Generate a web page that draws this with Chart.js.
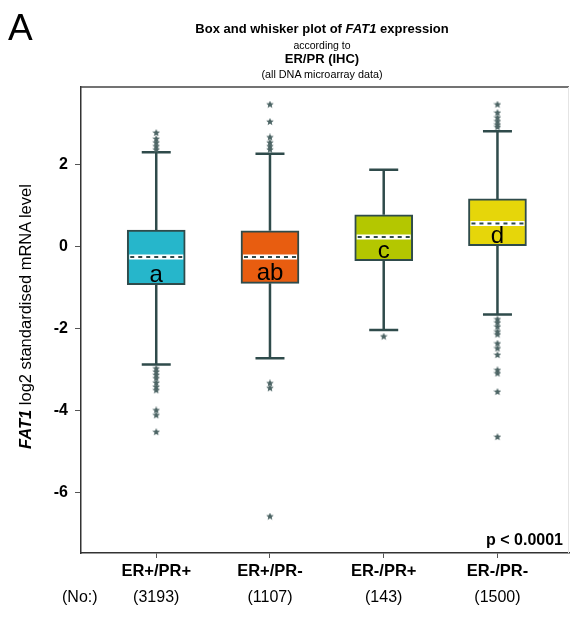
<!DOCTYPE html>
<html>
<head>
<meta charset="utf-8">
<script src="https://cdn.jsdelivr.net/npm/chart.js@4/dist/chart.umd.min.js"></script>
<style>
  html, body { margin: 0; padding: 0; background: #fff; }
  #wrap { position: relative; width: 574px; height: 624px; font-family: "Liberation Sans", Arial, sans-serif; color: #000; }
  #c { position: absolute; left: 0; top: 0; }
  .t { position: absolute; left: 122px; width: 400px; text-align: center; white-space: nowrap; }
  #panel { position: absolute; left: 8px; top: 9px; font-size: 37px; line-height: 37px; }
  #ylab { position: absolute; left: -175px; top: 307px; width: 400px; height: 19px; line-height: 19px; text-align: center; font-size: 16.5px; transform: rotate(-90deg); transform-origin: 200px 9.5px; white-space: nowrap; }
</style>
</head>
<body>
<div id="wrap">
  <canvas id="c" width="574" height="624"></canvas>
  <div id="panel">A</div>
  <div class="t" style="top:21px;font-size:13px;line-height:15px;font-weight:bold;">Box and whisker plot of <i>FAT1</i> expression</div>
  <div class="t" style="top:39px;font-size:10.5px;line-height:12px;">according to</div>
  <div class="t" style="top:51px;font-size:13px;line-height:15px;font-weight:bold;">ER/PR (IHC)</div>
  <div class="t" style="top:67.5px;font-size:10.8px;line-height:12px;">(all DNA microarray data)</div>
  <div id="ylab"><b><i>FAT1</i></b> log2 standardised mRNA level</div>
</div>
<script>
// ---- data ----
const categories = ['ER+/PR+', 'ER+/PR-', 'ER-/PR+', 'ER-/PR-'];
const counts = ['(3193)', '(1107)', '(143)', '(1500)'];
const letters = ['a', 'ab', 'c', 'd'];
const whiskerLow  = [-2.87, -2.72, -2.03, -1.65];
const q1          = [-0.92, -0.89, -0.34, 0.03];
const median      = [-0.25, -0.25, 0.24, 0.57];
const q3          = [0.41, 0.39, 0.78, 1.17];
const whiskerHigh = [2.31, 2.27, 1.88, 2.82];
const outliersA = [2.78, 2.63, 2.54, 2.45, 2.37, -2.97, -3.05, -3.13, -3.21, -3.32, -3.42, -3.50, -3.99, -4.11, -4.52];
const outliersB = [3.47, 3.05, 2.67, 2.54, 2.45, 2.37, -3.33, -3.45, -6.58];
const outliersC = [-2.19];
const outliersD = [3.47, 3.27, 3.15, 3.06, 2.98, 2.92, -1.77, -1.85, -1.95, -2.07, -2.14, -2.36, -2.48, -2.64, -3.01, -3.09, -3.54, -4.64];
const yTicks = [-6, -4, -2, 0, 2];
const pValueText = 'p < 0.0001';

// ---- styles ----
const boxColors = ['#26b6cb', '#e85d10', '#b4c700', '#e6d60a'];
const lineColor = '#2f4b4b';
const starColor = '#4c6464';
const FONT = '"Liberation Sans", Arial, sans-serif';

function makeStar(size, color) {
  const c = document.createElement('canvas');
  c.width = c.height = size;
  const g = c.getContext('2d');
  g.fillStyle = color;
  g.beginPath();
  const cx = size / 2, cy = size / 2, R = size / 2, r = R * 0.45;
  for (let k = 0; k < 10; k++) {
    const a = -Math.PI / 2 + k * Math.PI / 5;
    const rad = k % 2 ? r : R;
    g.lineTo(cx + rad * Math.cos(a), cy + rad * Math.sin(a));
  }
  g.closePath();
  g.fill();
  return c;
}
const star = makeStar(8, starColor);

const allOutliers = [outliersA, outliersB, outliersC, outliersD];
const outlierPoints = [];
allOutliers.forEach((arr, i) => arr.forEach(v => outlierPoints.push({ x: i + 1, y: v })));
const boxData = categories.map((c, i) => ({ x: i + 1, y: [q1[i], q3[i]] }));

const boxPlugin = {
  id: 'boxExtras',
  beforeDatasetsDraw(chart) {
    const ctx = chart.ctx, xs = chart.scales.x, ys = chart.scales.y;
    ctx.save();
    ctx.strokeStyle = lineColor;
    ctx.lineWidth = 2.5;
    categories.forEach((c, i) => {
      const x = xs.getPixelForValue(i + 1);
      const yHi = ys.getPixelForValue(whiskerHigh[i]);
      const yLo = ys.getPixelForValue(whiskerLow[i]);
      ctx.beginPath();
      ctx.moveTo(x, ys.getPixelForValue(q3[i])); ctx.lineTo(x, yHi);
      ctx.moveTo(x, ys.getPixelForValue(q1[i])); ctx.lineTo(x, yLo);
      ctx.moveTo(x - 14.5, yHi); ctx.lineTo(x + 14.5, yHi);
      ctx.moveTo(x - 14.5, yLo); ctx.lineTo(x + 14.5, yLo);
      ctx.stroke();
    });
    ctx.restore();
  },
  afterDatasetsDraw(chart) {
    const ctx = chart.ctx, xs = chart.scales.x, ys = chart.scales.y;
    ctx.save();
    categories.forEach((c, i) => {
      const x = xs.getPixelForValue(i + 1);
      const ym = ys.getPixelForValue(median[i]);
      ctx.strokeStyle = '#ffffff';
      ctx.lineWidth = 5;
      ctx.beginPath(); ctx.moveTo(x - 27, ym); ctx.lineTo(x + 27, ym); ctx.stroke();
      ctx.strokeStyle = lineColor;
      ctx.lineWidth = 2;
      ctx.setLineDash([4, 4]);
      ctx.beginPath(); ctx.moveTo(x - 26, ym); ctx.lineTo(x + 27, ym); ctx.stroke();
      ctx.setLineDash([]);
      ctx.fillStyle = '#000';
      ctx.font = '24px ' + FONT;
      ctx.textAlign = 'center';
      ctx.textBaseline = 'alphabetic';
      ctx.fillText(letters[i], x, ys.getPixelForValue(q1[i]) - 3);
    });
    ctx.restore();
  },
  afterDraw(chart) {
    const ctx = chart.ctx, xs = chart.scales.x, a = chart.chartArea;
    ctx.save();
    ctx.strokeStyle = '#444';
    ctx.lineWidth = 1.5;
    ctx.beginPath(); ctx.moveTo(a.left, a.top); ctx.lineTo(a.right, a.top); ctx.stroke();
    ctx.strokeStyle = '#e4e4e4';
    ctx.lineWidth = 1;
    ctx.beginPath(); ctx.moveTo(a.right - 0.5, a.top); ctx.lineTo(a.right - 0.5, a.bottom); ctx.stroke();
    ctx.fillStyle = '#000';
    ctx.font = 'bold 16px ' + FONT;
    ctx.textAlign = 'right';
    ctx.textBaseline = 'alphabetic';
    ctx.fillText(pValueText, 563, 545);
    ctx.font = '16px ' + FONT;
    ctx.textBaseline = 'middle';
    ctx.textAlign = 'left';
    ctx.fillText('(No:)', 62, 598);
    ctx.textAlign = 'center';
    counts.forEach((t, i) => ctx.fillText(t, xs.getPixelForValue(i + 1), 598));
    ctx.restore();
  }
};

new Chart(document.getElementById('c'), {
  type: 'bar',
  data: {
    datasets: [
      {
        type: 'scatter',
        data: outlierPoints,
        pointStyle: star,
        pointRadius: 4,
        order: 0
      },
      {
        type: 'bar',
        data: boxData,
        backgroundColor: boxColors,
        borderColor: lineColor,
        borderWidth: 2,
        borderSkipped: false,
        barThickness: 58,
        order: 1
      }
    ]
  },
  options: {
    responsive: false,
    animation: false,
    events: [],
    layout: { padding: { top: 87, right: 2, left: 0, bottom: 0 } },
    plugins: { legend: { display: false }, tooltip: { enabled: false }, title: { display: false } },
    scales: {
      x: {
        type: 'linear',
        offset: false,
        min: 0.3385,
        max: 4.629,
        afterFit(s) { s.height = 71; },
        afterBuildTicks(s) { s.ticks = categories.map((c, i) => ({ value: i + 1 })); },
        ticks: {
          autoSkip: false,
          maxRotation: 0,
          color: '#000',
          padding: 4,
          font: { family: FONT, size: 16.5, weight: 'bold' },
          callback: v => categories[v - 1]
        },
        grid: { display: true, drawOnChartArea: false, offset: false, tickLength: 5, color: '#555', lineWidth: 1 },
        border: { display: true, color: '#333', width: 1.5 }
      },
      y: {
        type: 'linear',
        min: -7.47,
        max: 3.9,
        beginAtZero: false,
        afterFit(s) { s.width = 81; },
        afterBuildTicks(s) { s.ticks = yTicks.map(v => ({ value: v })); },
        ticks: {
          autoSkip: false,
          color: '#000',
          padding: 7,
          font: { family: FONT, size: 16, weight: 'bold' }
        },
        grid: { display: true, drawOnChartArea: false, tickLength: 6, color: '#555', lineWidth: 1 },
        border: { display: true, color: '#333', width: 1.5 }
      }
    }
  },
  plugins: [boxPlugin]
});
</script>
</body>
</html>
